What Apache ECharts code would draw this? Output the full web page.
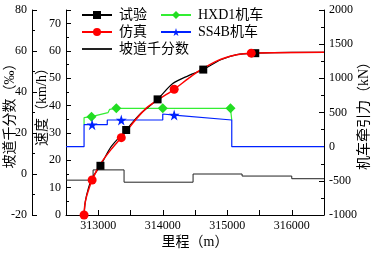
<!DOCTYPE html>
<html>
<head>
<meta charset="utf-8">
<script src="https://cdn.jsdelivr.net/npm/echarts@6/dist/echarts.min.js"></script>
<style>
  html, body { margin: 0; padding: 0; background: #fff; }
  #chart { width: 373px; height: 255px; }
</style>
</head>
<body>
<div id="chart"></div>
<script>
// 试验速度 (里程 m, km/h)，mark 为 1 的点画方块
const testPoints = [
  [312780, 0, 0], [312800, 5, 0], [312850, 10, 0], [312905, 13.5, 0],
  [313034, 18, 1], [313200, 25, 0], [313433, 31.1, 1], [313650, 37, 0],
  [313920, 42.3, 1], [314150, 48, 0], [314400, 51, 0], [314628, 53.2, 1],
  [314900, 56.8, 0], [315150, 58.7, 0], [315434, 59.2, 1], [316000, 59.5, 0],
  [316500, 59.5, 0]
]
// 仿真速度
const simPoints = [
  [312780, 0, 1], [312792, 3.7, 0], [312818, 6.7, 0], [312858, 9.8, 0],
  [312905, 12.8, 1], [313023, 18.3, 0], [313200, 24, 0], [313357, 28.3, 1],
  [313550, 34, 0], [313741, 39, 0], [313950, 42.5, 0], [314177, 46, 1],
  [314400, 50, 0], [314562, 52.7, 0], [314850, 56.5, 0], [315146, 58.6, 0],
  [315372, 59.2, 1], [316500, 59.5, 0]
]
// 坡道千分数 (里程 m, ‰)，阶梯
const gradePoints = [
  [312500, -3], [312920, 2], [313400, -4], [314470, 0],
  [315230, -1], [316000, -2.3], [316500, -2.3]
]
// HXD1 机车牵引力 (kN)
const hxd1Points = [
  [312780, 320, 0], [312780, 424, 0], [312895, 439, 1], [313151, 497, 0],
  [313177, 547, 0], [313280, 561, 1], [314000, 561, 1], [315050, 561, 1],
  [315070, 561, 0], [315070, 390, 0]
]
// SS4B 机车牵引力 (kN)
const ss4bPoints = [
  [312500, 0, 0], [312780, 0, 0], [312780, 322, 0], [312905, 322, 1],
  [313140, 322, 0], [313140, 390, 0], [313357, 390, 1], [314000, 390, 0],
  [314000, 478, 0], [314177, 463, 1], [315070, 390, 0], [315070, 0, 0],
  [316500, 0, 0]
]

const FONT = '"Liberation Serif", "Noto Sans CJK SC", serif'
const STAR = 'path://M50,0 L61,35 L98,35 L68,57 L79,91 L50,70 L21,91 L32,57 L2,35 L39,35 Z'

function toData (points) {
  return points.map(p => p[2] ? { value: [p[0], p[1]] } : { value: [p[0], p[1]], symbol: 'none' })
}

const chart = echarts.init(document.getElementById('chart'))
const axisBase = {
  axisLine: { show: true, lineStyle: { color: '#000', width: 1 } },
  axisTick: { show: true, inside: true, length: 5, lineStyle: { color: '#000' } },
  minorTick: { show: true, splitNumber: 2, length: 3, lineStyle: { color: '#000' } },
  splitLine: { show: false },
  axisLabel: { color: '#000', fontSize: 12, fontFamily: FONT, margin: 5, formatter: v => String(v) },
  nameLocation: 'middle',
  nameMoveOverlap: false,
  nameTextStyle: { color: '#000', fontSize: 14, fontFamily: FONT }
}

chart.setOption({
  animation: false,
  backgroundColor: '#fff',
  grid: { left: 66, right: 49, top: 10, bottom: 40, outerBoundsMode: 'none', containLabel: false },
  legend: [{
    left: 76, top: 3, orient: 'vertical', itemWidth: 30, itemHeight: 10, itemGap: 3,
    textStyle: { color: '#000', fontSize: 14, fontFamily: FONT, padding: [0, 0, 0, 2] },
    data: ['试验', '仿真', { name: '坡道千分数', itemStyle: { opacity: 0 } }]
  }, {
    left: 155, top: 3, orient: 'vertical', itemWidth: 30, itemHeight: 10, itemGap: 3,
    textStyle: { color: '#000', fontSize: 14, fontFamily: FONT, padding: [0, 0, 0, 2] },
    data: ['HXD1机车', 'SS4B机车']
  }],
  xAxis: Object.assign({}, axisBase, {
    type: 'value', min: 312500, max: 316500, interval: 500,
    minorTick: { show: false },
    name: '里程（m）', nameGap: 20,
    axisLabel: Object.assign({}, axisBase.axisLabel, {
      formatter: v => (v % 1000 === 0 && v < 316500) ? String(v) : ''
    })
  }),
  yAxis: [
    Object.assign({}, axisBase, {
      type: 'value', min: 0, max: 75, interval: 10, position: 'left',
      name: '速度（km/h）', nameGap: 17,
      nameTextStyle: { color: '#000', fontSize: 14, fontFamily: FONT, padding: [0, 0, 0, 18] },
      axisLabel: Object.assign({}, axisBase.axisLabel, { formatter: v => v > 70 ? '' : String(v) })
    }),
    Object.assign({}, axisBase, {
      type: 'value', min: -20, max: 80, interval: 20, position: 'left', offset: 34,
      name: '坡道千分数（‰）', nameGap: 15
    }),
    Object.assign({}, axisBase, {
      type: 'value', min: -1000, max: 2000, interval: 500, position: 'right',
      name: '机车牵引力（kN）', nameGap: 33, nameRotate: 90
    })
  ],
  series: [
    {
      name: '坡道千分数', type: 'line', yAxisIndex: 1, step: 'end', symbol: 'none',
      lineStyle: { color: '#222', width: 1 }, itemStyle: { color: '#000' },
      data: gradePoints
    },
    {
      name: 'HXD1机车', type: 'line', yAxisIndex: 2, symbol: 'diamond', symbolSize: 10,
      lineStyle: { color: '#33ee33', width: 1.2 }, itemStyle: { color: '#22dd22' },
      data: toData(hxd1Points)
    },
    {
      name: 'SS4B机车', type: 'line', yAxisIndex: 2, symbol: STAR, symbolSize: 11,
      lineStyle: { color: '#0022ff', width: 1.2 }, itemStyle: { color: '#0022ff' },
      data: toData(ss4bPoints)
    },
    {
      name: '试验', type: 'line', yAxisIndex: 0, smooth: 0.3, symbol: 'rect', symbolSize: 8,
      lineStyle: { color: '#000', width: 1.2 }, itemStyle: { color: '#000' },
      data: toData(testPoints)
    },
    {
      name: '仿真', type: 'line', yAxisIndex: 0, smooth: 0.3, symbol: 'circle', symbolSize: 9,
      lineStyle: { color: '#ff0000', width: 1.5 }, itemStyle: { color: '#ff0000' },
      data: toData(simPoints)
    }
  ]
})
</script>
</body>
</html>
